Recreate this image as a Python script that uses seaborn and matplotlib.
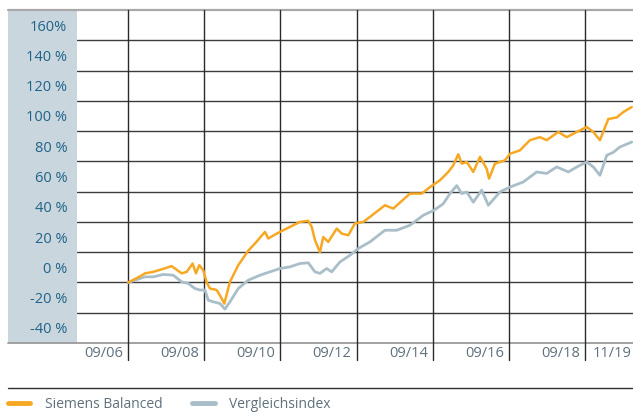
import pandas as pd
import matplotlib.pyplot as plt
import seaborn as sns
from matplotlib.lines import Line2D
from matplotlib.patches import Rectangle
from matplotlib.transforms import ScaledTranslation

# Siemens Balanced, performance in % since 09/2006
fund_dates = ['2006-09-01', '2006-12-22', '2007-02-08', '2007-04-29', '2007-08-03', '2007-10-22',
              '2008-01-27', '2008-03-15', '2008-05-11', '2008-06-12', '2008-07-14', '2008-08-21',
              '2008-09-23', '2008-10-24', '2008-12-28', '2009-02-14', '2009-03-11', '2009-05-04',
              '2009-07-23', '2009-10-27', '2009-12-30', '2010-04-05', '2010-05-07', '2010-06-24',
              '2010-08-27', '2010-12-01', '2011-03-07', '2011-05-26', '2011-06-28', '2011-07-29',
              '2011-09-15', '2011-10-17', '2011-12-04', '2012-02-23', '2012-04-11', '2012-06-13',
              '2012-08-16', '2012-11-04', '2013-01-07', '2013-05-31', '2013-08-19', '2014-01-26',
              '2014-05-19', '2014-08-06', '2014-11-10', '2015-01-29', '2015-03-18', '2015-05-05',
              '2015-06-07', '2015-07-25', '2015-09-26', '2015-11-29', '2016-02-02', '2016-02-24',
              '2016-04-21', '2016-07-26', '2016-09-12', '2016-12-17', '2017-03-23', '2017-06-27',
              '2017-08-30', '2017-12-20', '2018-03-11', '2018-06-15', '2018-09-19', '2018-11-21',
              '2019-01-24', '2019-04-14', '2019-07-04', '2019-09-05', '2019-11-25']
fund_values = [0, 4, 6, 7, 9, 10.8,
               6, 7, 12.5, 6, 11.4, 8,
               0, -4, -5, -10.6, -14, 0.4,
               11.4, 21, 25.7, 33.4, 29, 31,
               33.4, 36.7, 40, 40.7, 36.7, 28,
               20, 30, 26.8, 35.6, 32.3, 31.2,
               39, 40, 43.3, 51, 48.8, 58.7,
               58.7, 63, 67.5, 73, 77.4, 84.7,
               78.5, 79.6, 73, 83, 75, 68.6,
               78.5, 80.7, 85, 87.3, 94, 96,
               94, 99.4, 96, 99.4, 102.7, 99.4,
               94, 108, 109, 112.6, 115.9]

# Vergleichsindex
index_dates = ['2006-09-01', '2007-02-08', '2007-04-29', '2007-08-03', '2007-11-06', '2008-01-27',
               '2008-03-30', '2008-06-02', '2008-07-20', '2008-09-06', '2008-10-08', '2008-11-25',
               '2009-01-28', '2009-03-17', '2009-05-04', '2009-07-23', '2009-10-27', '2010-02-17',
               '2010-05-23', '2010-08-27', '2010-12-01', '2011-03-07', '2011-05-26', '2011-07-29',
               '2011-09-15', '2011-11-18', '2012-01-06', '2012-03-26', '2012-06-30', '2012-09-17',
               '2013-01-07', '2013-05-31', '2013-09-21', '2014-01-26', '2014-06-03', '2014-09-14',
               '2014-12-12', '2015-02-14', '2015-04-20', '2015-06-07', '2015-07-25', '2015-09-26',
               '2015-12-16', '2016-02-17', '2016-06-08', '2016-09-12', '2017-01-18', '2017-05-27',
               '2017-08-30', '2017-12-05', '2018-03-26', '2018-06-15', '2018-09-19', '2018-11-21',
               '2019-01-24', '2019-03-30', '2019-06-01', '2019-08-04', '2019-11-25']
index_values = [0, 3.7, 3.7, 5.3, 4.8, 0.4,
                -0.7, -4, -5, -5, -11.7, -12.8,
                -13.9, -17.6, -12.8, -4, 1.5, 4.8,
                7, 9.2, 10.3, 12.5, 13, 7,
                6, 9.2, 7, 13.6, 18, 22.4,
                26.8, 34.5, 34.5, 37.8, 44.4, 47.7,
                52, 58.7, 64, 58.7, 59.8, 53,
                61, 51, 59.8, 63, 66.4, 73,
                72, 76.3, 73, 76.3, 79.6, 76.3,
                70.8, 84, 86, 89.5, 92.8]

x_ticks = ['2006-09-01', '2008-09-01', '2010-09-01', '2012-09-01', '2014-09-01', '2016-09-01', '2018-09-01', '2019-12-07']
x_labels = ['09/06', '09/08', '09/10', '09/12', '09/14', '09/16', '09/18', '11/19']
y_grid = list(range(-40, 181, 20))
y_labels = ['-40 %', '-20 %', '0 %', '20 %', '40 %', '60 %', '80 %', '100 %', '120 %', '140 %', '160%']

fund = pd.DataFrame({'date': pd.to_datetime(fund_dates), 'value': fund_values})
index = pd.DataFrame({'date': pd.to_datetime(index_dates), 'value': index_values})

orange = '#F7A823'
grey = '#A9BEC8'

sns.set_style('white')
plt.rcParams['font.family'] = ['Open Sans', 'DejaVu Sans']

fig = plt.figure(figsize=(6.33, 4.12), dpi=100)
ax = fig.add_axes([77 / 633, 69 / 412, 556 / 633, 333 / 412])

sns.lineplot(data=index, x='date', y='value', color=grey, lw=2.0, ax=ax, zorder=3)
sns.lineplot(data=fund, x='date', y='value', color=orange, lw=1.8, ax=ax, zorder=4)

ax.set_xlim(pd.Timestamp('2005-04-27'), pd.Timestamp('2019-12-07'))
ax.set_ylim(-40, 180)
ax.set_xlabel('')
ax.set_ylabel('')
for s in ax.spines.values():
    s.set_visible(False)

# grey band behind the y labels
panel_w = 69 / 556
ax.add_patch(Rectangle((-panel_w, 0), panel_w, 1, transform=ax.transAxes,
                       facecolor='#C9D6DE', edgecolor='none', clip_on=False, zorder=0))

# horizontal grid
for v in y_grid[1:-1]:
    ax.axhline(v, color='#3c3c3c', lw=1.0, zorder=1)
ax.axhline(180, xmin=-panel_w, xmax=1, color='#A8A8A8', lw=1.6, clip_on=False, zorder=1)
ax.axhline(-40, xmin=-panel_w, xmax=1, color='#9A9A9A', lw=1.3, clip_on=False, zorder=1)

# vertical grid, running a bit below the plot
for d in x_ticks[:-1]:
    ax.axvline(pd.Timestamp(d), ymin=-17 / 333, ymax=1, color='#2a2a2a', lw=1.0,
               clip_on=False, zorder=1)

# y labels sit in the middle of the band above each grid line
ax.set_yticks(y_grid)
ax.set_yticklabels([])
ax.set_yticks([v + 10 for v in y_grid[:-1]], minor=True)
ax.set_yticklabels(y_labels, minor=True)
ax.tick_params(axis='y', which='both', length=0, pad=7, labelsize=10.5, labelcolor='#1F6388')

ax.set_xticks(pd.to_datetime(x_ticks))
ax.set_xticklabels(x_labels, ha='right')
ax.tick_params(axis='x', length=0, pad=2.5, labelsize=10.5, labelcolor='#5F707C')
for i, lab in enumerate(ax.get_xticklabels()):
    dx = -0.05 if i < len(x_labels) - 1 else -0.01
    lab.set_transform(lab.get_transform() + ScaledTranslation(dx, 0, fig.dpi_scale_trans))

# legend under a rule
fig.add_artist(Line2D([8 / 633, 1], [24 / 412, 24 / 412], color='#2f2f2f', lw=1.0))
handles = [Line2D([], [], color=orange, lw=3.5), Line2D([], [], color=grey, lw=3.5)]
leg = fig.legend(handles, ['Siemens Balanced', 'Vergleichsindex'], loc='center left',
                 bbox_to_anchor=(8 / 633, 8 / 412), ncol=2, frameon=False, fontsize=10,
                 handlelength=1.6, handletextpad=1.05, columnspacing=2.15,
                 borderpad=0, borderaxespad=0)
for t in leg.get_texts():
    t.set_color('#5F707C')

plt.savefig('out.png', dpi=100)
